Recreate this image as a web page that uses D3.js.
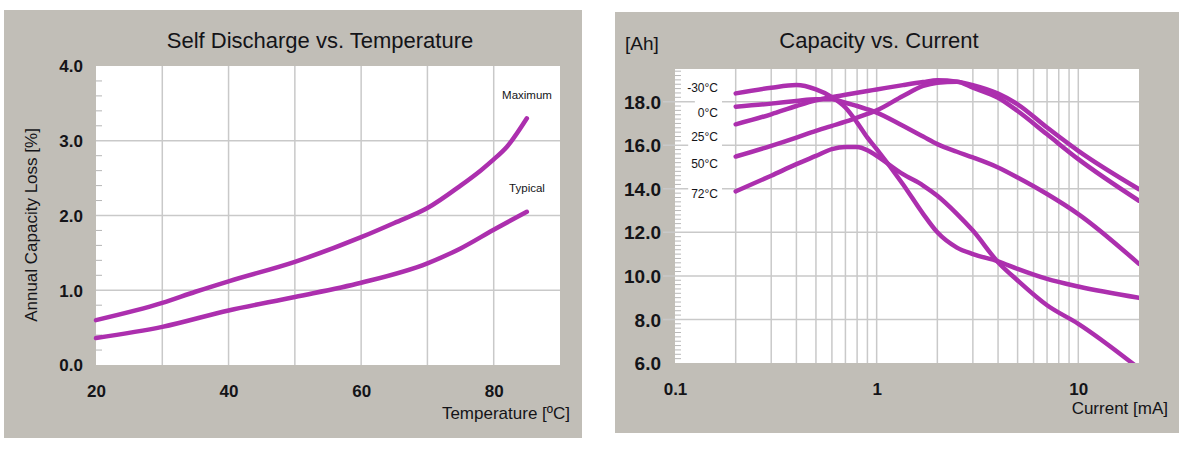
<!DOCTYPE html>
<html><head><meta charset="utf-8">
<script src="https://cdn.jsdelivr.net/npm/d3@7"></script>
<style>
html,body{margin:0;padding:0;background:#fff;}
svg{display:block;font-family:"Liberation Sans",Arial,sans-serif;}
</style></head>
<body>
<svg id="c" width="1191" height="458"></svg>
<script>
// ---------- DATA ----------
const sdMaxTemp = [20, 30, 35, 40, 50, 60, 65, 70, 75, 78, 80, 82, 85];
const sdMaxLoss = [0.60, 0.83, 0.98, 1.12, 1.38, 1.71, 1.90, 2.10, 2.40, 2.60, 2.75, 2.92, 3.30];
const sdTypTemp = [20, 30, 40, 50, 60, 70, 75, 80, 85];
const sdTypLoss = [0.36, 0.51, 0.73, 0.91, 1.10, 1.36, 1.56, 1.81, 2.05];
const sdYTicks = [0, 1, 2, 3, 4];
const sdXTicks = [20, 40, 60, 80];
const sdXGrid = [30, 40, 50, 60, 70, 80];

const currents = [0.2, 0.3, 0.4, 0.5, 0.6, 0.7, 0.8, 0.9, 1, 1.35, 1.7, 2, 2.5, 3, 4, 5, 7, 10, 20];
const capM30 = [18.38, 18.64, 18.76, 18.56, 18.21, 17.73, 17.04, 16.35, 15.82, 14.21, 12.85, 12.0, 11.3, 11.0, 10.67, 10.32, 9.86, 9.51, 8.99];
const cap0   = [17.77, 17.91, 18.03, 18.11, 18.11, 17.95, 17.80, 17.65, 17.50, 16.89, 16.40, 16.05, 15.70, 15.44, 14.98, 14.52, 13.76, 12.84, 10.55];
const cap25  = [16.96, 17.42, 17.80, 18.06, 18.21, 18.32, 18.41, 18.49, 18.56, 18.76, 18.90, 18.98, 18.92, 18.76, 18.37, 17.88, 16.81, 15.74, 13.98];
const cap50  = [15.48, 15.97, 16.35, 16.66, 16.89, 17.08, 17.27, 17.44, 17.60, 18.26, 18.72, 18.87, 18.92, 18.64, 18.18, 17.57, 16.50, 15.36, 13.45];
const cap72  = [13.88, 14.60, 15.13, 15.51, 15.82, 15.92, 15.92, 15.77, 15.51, 14.67, 14.15, 13.68, 12.85, 12.08, 10.63, 9.79, 8.65, 7.80, 5.75];
const tempLabels = ["-30°C", "0°C", "25°C", "50°C", "72°C"];
const ccYTicks = [6, 8, 10, 12, 14, 16, 18];
const ccXTicks = [0.1, 1, 10];
const ccXGrid = [0.2,0.3,0.4,0.5,0.6,0.7,0.8,0.9,1,2,3,4,5,6,7,8,9,10];

// ---------- STYLE / LAYOUT ----------
const BG = "#c1beb7", GRID = "#c9c9c9", LINE = "#ac2fae", TXT = "#141418";
const svg = d3.select("#c");

function panel(x, y, w, h){ svg.append("rect").attr("x",x).attr("y",y).attr("width",w).attr("height",h).attr("fill",BG); }
function styleAxis(a, size, weight){
  a.select(".domain").remove();
  a.selectAll("text").attr("font-size",size).attr("font-weight",weight).attr("fill",TXT)
    .attr("font-family","Liberation Sans, Arial, sans-serif");
}

// ===== Left chart =====
panel(4, 10, 578, 428);
const lx = d3.scaleLinear().domain([20, 90]).range([96, 560]);
const ly = d3.scaleLinear().domain([0, 4]).range([365, 66]);
const L = svg.append("g");
L.append("rect").attr("x",lx(20)).attr("y",ly(4)).attr("width",lx(90)-lx(20)).attr("height",ly(0)-ly(4)).attr("fill","#fff");
L.selectAll(".vg").data(sdXGrid).join("line")
  .attr("x1",d=>lx(d)).attr("x2",d=>lx(d)).attr("y1",ly(0)).attr("y2",ly(4))
  .attr("stroke",GRID).attr("stroke-width",1.5);
L.selectAll(".hg").data([1,2,3]).join("line")
  .attr("x1",lx(20)).attr("x2",lx(90)).attr("y1",d=>ly(d)).attr("y2",d=>ly(d))
  .attr("stroke",GRID).attr("stroke-width",1.5);
const lMinor = d3.range(0, 4.001, 0.2).filter(v => Math.abs(v - Math.round(v)) > 0.01);
L.selectAll(".mt").data(lMinor).join("line")
  .attr("x1",lx(20)).attr("x2",lx(20)+6).attr("y1",d=>ly(d)).attr("y2",d=>ly(d))
  .attr("stroke","#b5b5b5").attr("stroke-width",1);
const lyAxis = L.append("g").attr("transform",`translate(${lx(20)},0)`)
  .call(d3.axisLeft(ly).tickValues(sdYTicks).tickFormat(d3.format(".1f")).tickSize(0).tickPadding(13));
const lxAxis = L.append("g").attr("transform",`translate(0,${ly(0)})`)
  .call(d3.axisBottom(lx).tickValues(sdXTicks).tickFormat(d3.format("d")).tickSize(0).tickPadding(20));
styleAxis(lyAxis, 17, 700); styleAxis(lxAxis, 17, 700);
lyAxis.selectAll("text").attr("dy","0.35em");

const lLine = d3.line().x(d=>lx(d[0])).y(d=>ly(d[1])).curve(d3.curveMonotoneX);
L.append("path").datum(d3.zip(sdMaxTemp, sdMaxLoss)).attr("d",lLine)
  .attr("fill","none").attr("stroke",LINE).attr("stroke-width",4.5).attr("stroke-linecap","round");
L.append("path").datum(d3.zip(sdTypTemp, sdTypLoss)).attr("d",lLine)
  .attr("fill","none").attr("stroke",LINE).attr("stroke-width",4.5).attr("stroke-linecap","round");

L.append("text").attr("x",527).attr("y",99).attr("text-anchor","middle").attr("font-size",11.5).attr("fill",TXT).text("Maximum");
L.append("text").attr("x",527).attr("y",192).attr("text-anchor","middle").attr("font-size",11.5).attr("fill",TXT).text("Typical");

svg.append("text").attr("x",320).attr("y",48).attr("text-anchor","middle").attr("font-size",22).attr("fill",TXT).text("Self Discharge vs. Temperature");
svg.append("text").attr("transform","translate(37,225) rotate(-90)").attr("text-anchor","middle").attr("font-size",17).attr("fill",TXT).text("Annual Capacity Loss [%]");
svg.append("text").attr("x",570).attr("y",419).attr("text-anchor","end").attr("font-size",17).attr("fill",TXT).text("Temperature [ºC]");

// ===== Right chart =====
panel(615, 12, 564, 421);
const rx = d3.scaleLog().domain([0.1, 20]).range([675, 1139]);
const ry = d3.scaleLinear().domain([6, 19.5]).range([363, 69]);
const R = svg.append("g");
R.append("defs").append("clipPath").attr("id","rclip").append("rect")
  .attr("x",rx(0.1)).attr("y",ry(19.5)).attr("width",rx(20)-rx(0.1)).attr("height",ry(6)-ry(19.5));
R.append("rect").attr("x",rx(0.1)).attr("y",ry(19.5)).attr("width",rx(20)-rx(0.1)).attr("height",ry(6)-ry(19.5)).attr("fill","#fff");
R.selectAll(".vg").data(ccXGrid).join("line")
  .attr("x1",d=>rx(d)).attr("x2",d=>rx(d)).attr("y1",ry(6)).attr("y2",ry(19.5))
  .attr("stroke",GRID).attr("stroke-width",1.5);
R.selectAll(".hg").data(ccYTicks.filter(v=>v>6)).join("line")
  .attr("x1",663).attr("x2",rx(20)).attr("y1",d=>ry(d)).attr("y2",d=>ry(d))
  .attr("stroke",GRID).attr("stroke-width",1.5);
const rMinor = d3.range(6, 19.501, 0.2).filter(v => Math.abs(v/2 - Math.round(v/2)) > 0.01);
R.selectAll(".mt").data(rMinor).join("line")
  .attr("x1",rx(0.1)).attr("x2",rx(0.1)+6).attr("y1",d=>ry(d)).attr("y2",d=>ry(d))
  .attr("stroke","#b8b8b8").attr("stroke-width",1);

const ryAxis = R.append("g").attr("transform",`translate(${rx(0.1)},0)`)
  .call(d3.axisLeft(ry).tickValues(ccYTicks).tickFormat(d3.format(".1f")).tickSize(0).tickPadding(14));
const rxAxis = R.append("g").attr("transform",`translate(0,${ry(6)})`)
  .call(d3.axisBottom(rx).tickValues(ccXTicks).tickFormat(d=>String(d)).tickSize(0).tickPadding(20));
styleAxis(ryAxis, 19, 700); styleAxis(rxAxis, 17, 700);
ryAxis.selectAll("text").attr("dy","0.35em");

const labelY = [88, 113, 137, 164, 194];
const lg = R.append("g");
tempLabels.forEach((t, i) => {
  const g = lg.append("g");
  const txt = g.append("text").attr("x",718).attr("y",labelY[i]).attr("dy","0.35em").attr("text-anchor","end")
    .attr("font-size",12).attr("fill",TXT).text(t);
  const bb = txt.node().getBBox();
  g.insert("rect","text").attr("x",bb.x-3).attr("y",labelY[i]-12.5).attr("width",722-(bb.x-3)).attr("height",25).attr("fill","#fff");
});

const rLine = d3.line().x(d=>rx(d[0])).y(d=>ry(d[1])).curve(d3.curveMonotoneX);
const series = [capM30, cap0, cap25, cap50, cap72];
R.append("g").attr("clip-path","url(#rclip)").selectAll("path").data(series).join("path")
  .attr("d", s => rLine(d3.zip(currents, s)))
  .attr("fill","none").attr("stroke",LINE).attr("stroke-width",4.5).attr("stroke-linecap","round");

svg.append("text").attr("x",879).attr("y",48).attr("text-anchor","middle").attr("font-size",22).attr("fill",TXT).text("Capacity vs. Current");
svg.append("text").attr("x",625).attr("y",50).attr("font-size",19).attr("fill",TXT).text("[Ah]");
svg.append("text").attr("x",1168).attr("y",414).attr("text-anchor","end").attr("font-size",17).attr("fill",TXT).text("Current [mA]");
</script>
</body></html>
